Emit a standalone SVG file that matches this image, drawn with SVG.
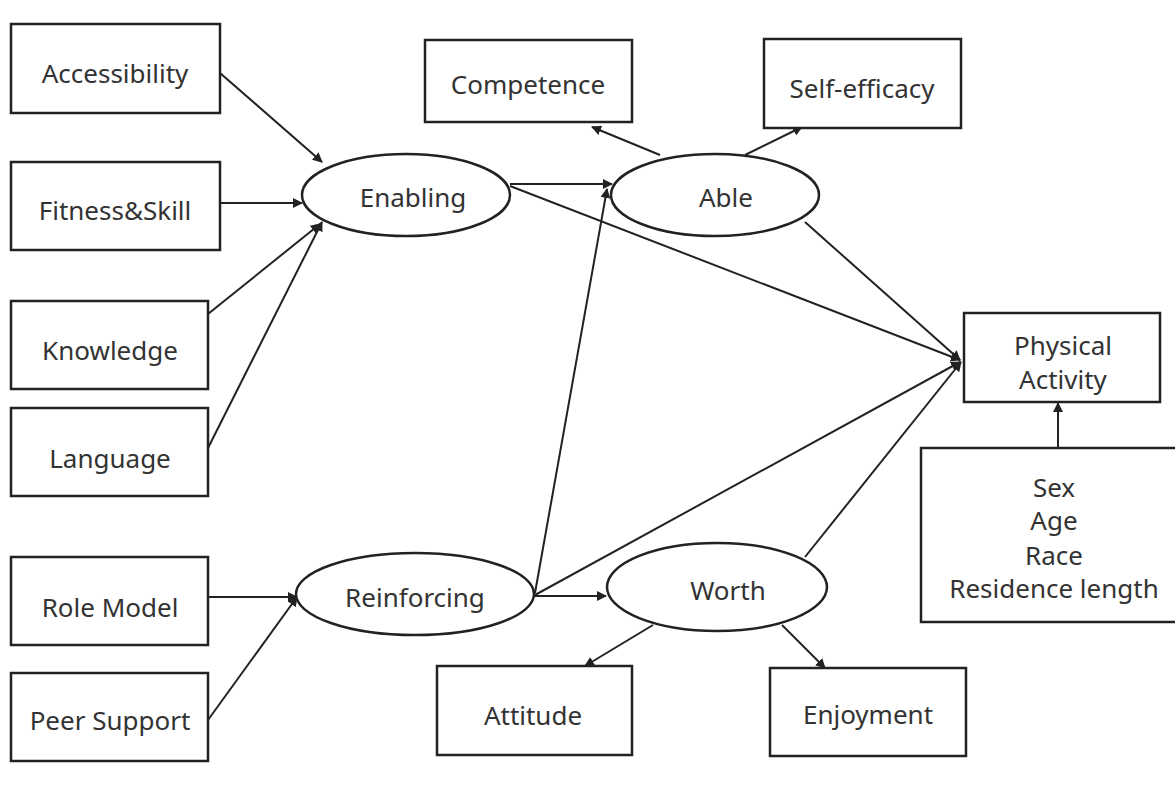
<svg xmlns="http://www.w3.org/2000/svg" width="1175" height="788" viewBox="0 0 1175 788">
<style>
.box{fill:#fff;stroke:#222;stroke-width:2.5}
.ell{fill:#fff;stroke:#222;stroke-width:2.5}
.t{font-family:"Noto Sans","Liberation Sans",sans-serif;font-size:26px;fill:#333;text-anchor:middle;dominant-baseline:central}
.c line{stroke:#222;stroke-width:2;marker-end:url(#ah)}
</style>
<defs>
<marker id="ah" viewBox="0 0 10 10" refX="9" refY="5" markerWidth="5" markerHeight="5" orient="auto" markerUnits="strokeWidth">
<path d="M0,0 L10,5 L0,10 z" fill="#222"/>
</marker>
</defs>
<rect width="1175" height="788" fill="#fff"/>
<g class="c" id="connectors">
<line x1="220" y1="73" x2="322" y2="162"/>
<line x1="220" y1="203" x2="302" y2="203"/>
<line x1="208" y1="314" x2="320" y2="224"/>
<line x1="208" y1="448" x2="322" y2="222"/>
<line x1="510" y1="184" x2="612" y2="184"/>
<line x1="510" y1="186" x2="960" y2="360"/>
<line x1="660" y1="155" x2="592" y2="127"/>
<line x1="745" y1="155" x2="802" y2="127"/>
<line x1="805" y1="222" x2="960" y2="360"/>
<line x1="535" y1="593" x2="607" y2="189"/>
<line x1="535" y1="595" x2="960" y2="362"/>
<line x1="535" y1="596" x2="606" y2="596"/>
<line x1="805" y1="557" x2="961" y2="362"/>
<line x1="653" y1="625" x2="585" y2="666"/>
<line x1="782" y1="625" x2="825" y2="668"/>
<line x1="208" y1="597" x2="297" y2="597"/>
<line x1="208" y1="720" x2="297" y2="597"/>
<line x1="1058" y1="448" x2="1058" y2="403"/>
</g>
<g id="accessibility"><rect class="box" x="11" y="24" width="209" height="89"/><text class="t" x="115" y="73">Accessibility</text></g>
<g id="fitness"><rect class="box" x="11" y="162" width="209" height="88"/><text class="t" x="115" y="210">Fitness&amp;Skill</text></g>
<g id="knowledge"><rect class="box" x="11" y="301" width="197" height="88"/><text class="t" x="110" y="350">Knowledge</text></g>
<g id="language"><rect class="box" x="11" y="408" width="197" height="88"/><text class="t" x="110" y="458">Language</text></g>
<g id="rolemodel"><rect class="box" x="11" y="557" width="197" height="88"/><text class="t" x="110" y="607">Role Model</text></g>
<g id="peersupport"><rect class="box" x="11" y="673" width="197" height="88"/><text class="t" x="110" y="720">Peer Support</text></g>
<g id="enabling"><ellipse class="ell" cx="406" cy="195" rx="104" ry="41"/><text class="t" x="413" y="197">Enabling</text></g>
<g id="competence"><rect class="box" x="425" y="40" width="207" height="82"/><text class="t" x="528" y="84">Competence</text></g>
<g id="selfefficacy"><rect class="box" x="764" y="39" width="197" height="89"/><text class="t" x="862" y="88">Self-efficacy</text></g>
<g id="able"><ellipse class="ell" cx="715" cy="195" rx="104" ry="41"/><text class="t" x="726" y="197">Able</text></g>
<g id="physicalactivity"><rect class="box" x="964" y="313" width="196" height="89"/><text class="t" x="1063" y="345">Physical</text><text class="t" x="1063" y="379">Activity</text></g>
<g id="demographics"><rect class="box" x="921" y="448" width="256" height="174"/><text class="t" x="1054" y="487">Sex</text><text class="t" x="1054" y="520">Age</text><text class="t" x="1054" y="555">Race</text><text class="t" x="1054" y="588">Residence length</text></g>
<g id="reinforcing"><ellipse class="ell" cx="415" cy="594" rx="119" ry="41"/><text class="t" x="415" y="597">Reinforcing</text></g>
<g id="worth"><ellipse class="ell" cx="717" cy="587" rx="110" ry="44"/><text class="t" x="728" y="590">Worth</text></g>
<g id="attitude"><rect class="box" x="437" y="666" width="195" height="89"/><text class="t" x="533" y="715">Attitude</text></g>
<g id="enjoyment"><rect class="box" x="770" y="668" width="196" height="88"/><text class="t" x="868" y="714">Enjoyment</text></g>
</svg>
